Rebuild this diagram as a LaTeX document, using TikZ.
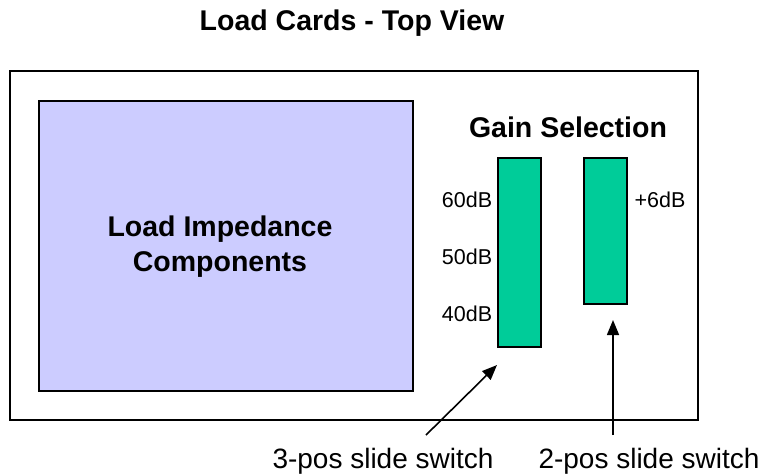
\documentclass[tikz,border=0pt]{standalone}
\usepackage{fontspec}
\setmainfont{Liberation Sans}
\usetikzlibrary{arrows.meta}
\definecolor{impblue}{RGB}{204,204,255}
\definecolor{swgreen}{RGB}{0,204,153}
\begin{document}
\begin{tikzpicture}[x=1pt,y=-1pt,
  boxline/.style={draw=black,line width=2pt},
  switchbox/.style={boxline,fill=swgreen},
  dblabel/.style={font=\fontsize{21.5}{21.5}\selectfont,inner sep=0pt},
  boldlabel/.style={font=\fontsize{28.5}{35}\selectfont\bfseries,inner sep=0pt,align=center},
  caplabel/.style={font=\fontsize{28}{28}\selectfont,inner sep=0pt},
  pointer/.style={line width=1.6pt,-{Triangle[length=15pt,width=12pt]}}]
\useasboundingbox (0,0) rectangle (765,475);
\node[boldlabel] (title) at (352,23) {Load Cards - Top View};
\draw[boxline] (10,71) rectangle (698,420);
\node[boxline,fill=impblue,minimum width=374pt,minimum height=290pt,anchor=north west] (imp) at (38,100) {};
\node[boldlabel] (imptext) at (220,247) {Load Impedance\\Components};
\node[boldlabel] (gain) at (568,127) {Gain Selection};
\draw[switchbox] (498,158) rectangle (541,347);
\coordinate (sw3) at (497,365);
\draw[switchbox] (584,158) rectangle (627,304);
\coordinate (sw2) at (613,320);
\node[dblabel] (d60) at (467,200) {60dB};
\node[dblabel] (d50) at (467,257) {50dB};
\node[dblabel] (d40) at (467,314) {40dB};
\node[dblabel] (d6) at (660,200) {+6dB};
\node[caplabel] (lab3) at (383,461) {3-pos slide switch};
\node[caplabel] (lab2) at (649,461) {2-pos slide switch};
\coordinate (s3) at (426,435);
\coordinate (s2) at (613,435);
\draw[pointer] (s3) -- (sw3);
\draw[pointer] (s2) -- (sw2);
\end{tikzpicture}
\end{document}
